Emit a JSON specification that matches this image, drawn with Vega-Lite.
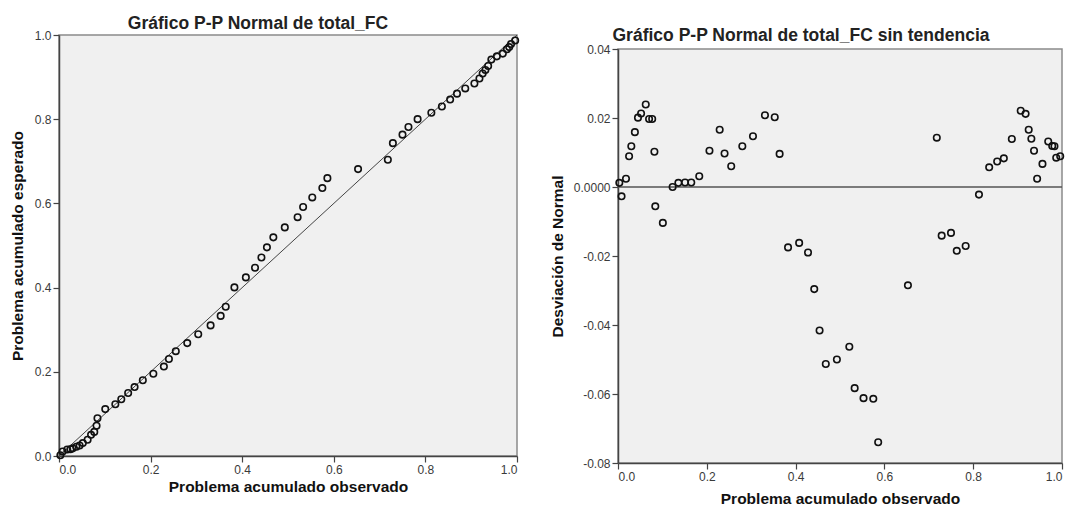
{
  "$schema": "https://vega.github.io/schema/vega-lite/v6.json",
  "background": "white",
  "padding": {"left": 9, "top": 13, "right": 0, "bottom": 0},
  "bounds": "flush",
  "spacing": 101,
  "config": {
    "view": {"stroke": null},
    "font": "Liberation Sans",
    "axis": {
      "grid": false,
      "domainColor": "#444",
      "domainWidth": 1.5,
      "tickColor": "#444",
      "tickWidth": 1.2,
      "tickSize": 6,
      "labelPadding": 2,
      "labelFont": "Liberation Sans",
      "labelFontSize": 12,
      "labelColor": "#3a3a3a",
      "titleFont": "Liberation Sans",
      "titleFontSize": 15.5,
      "titleFontWeight": "bold",
      "titleColor": "#111"
    },
    "title": {"font": "Liberation Sans", "fontSize": 17.5, "fontWeight": "bold", "color": "#222", "anchor": "middle"}
  },
  "datasets": {
    "pp": [
      {"obs": 0.003, "exp": 0.0018, "dev": 0.0012},
      {"obs": 0.008, "exp": 0.0107, "dev": -0.0027},
      {"obs": 0.018, "exp": 0.0156, "dev": 0.0024},
      {"obs": 0.025, "exp": 0.0161, "dev": 0.0089},
      {"obs": 0.030, "exp": 0.0182, "dev": 0.0118},
      {"obs": 0.038, "exp": 0.0221, "dev": 0.0159},
      {"obs": 0.045, "exp": 0.0249, "dev": 0.0201},
      {"obs": 0.052, "exp": 0.0307, "dev": 0.0213},
      {"obs": 0.0625, "exp": 0.0386, "dev": 0.0239},
      {"obs": 0.070, "exp": 0.0503, "dev": 0.0197},
      {"obs": 0.077, "exp": 0.0573, "dev": 0.0197},
      {"obs": 0.082, "exp": 0.0718, "dev": 0.0102},
      {"obs": 0.084, "exp": 0.0896, "dev": -0.0056},
      {"obs": 0.101, "exp": 0.1114, "dev": -0.0104},
      {"obs": 0.123, "exp": 0.123, "dev": 0.0},
      {"obs": 0.136, "exp": 0.1348, "dev": 0.0012},
      {"obs": 0.151, "exp": 0.1497, "dev": 0.0013},
      {"obs": 0.165, "exp": 0.1637, "dev": 0.0013},
      {"obs": 0.183, "exp": 0.1799, "dev": 0.0031},
      {"obs": 0.206, "exp": 0.1955, "dev": 0.0105},
      {"obs": 0.229, "exp": 0.2124, "dev": 0.0166},
      {"obs": 0.240, "exp": 0.2303, "dev": 0.0097},
      {"obs": 0.255, "exp": 0.249, "dev": 0.006},
      {"obs": 0.280, "exp": 0.2682, "dev": 0.0118},
      {"obs": 0.304, "exp": 0.2893, "dev": 0.0147},
      {"obs": 0.331, "exp": 0.3102, "dev": 0.0208},
      {"obs": 0.353, "exp": 0.3328, "dev": 0.0202},
      {"obs": 0.364, "exp": 0.3544, "dev": 0.0096},
      {"obs": 0.383, "exp": 0.4005, "dev": -0.0175},
      {"obs": 0.408, "exp": 0.4242, "dev": -0.0162},
      {"obs": 0.428, "exp": 0.447, "dev": -0.019},
      {"obs": 0.442, "exp": 0.4716, "dev": -0.0296},
      {"obs": 0.454, "exp": 0.4956, "dev": -0.0416},
      {"obs": 0.468, "exp": 0.5193, "dev": -0.0513},
      {"obs": 0.493, "exp": 0.543, "dev": -0.05},
      {"obs": 0.521, "exp": 0.5673, "dev": -0.0463},
      {"obs": 0.533, "exp": 0.5913, "dev": -0.0583},
      {"obs": 0.553, "exp": 0.6142, "dev": -0.0612},
      {"obs": 0.575, "exp": 0.6364, "dev": -0.0614},
      {"obs": 0.586, "exp": 0.660, "dev": -0.074},
      {"obs": 0.653, "exp": 0.6815, "dev": -0.0285},
      {"obs": 0.718, "exp": 0.7037, "dev": 0.0143},
      {"obs": 0.729, "exp": 0.7431, "dev": -0.0141},
      {"obs": 0.750, "exp": 0.7633, "dev": -0.0133},
      {"obs": 0.763, "exp": 0.7815, "dev": -0.0185},
      {"obs": 0.783, "exp": 0.8001, "dev": -0.0171},
      {"obs": 0.813, "exp": 0.8152, "dev": -0.0022},
      {"obs": 0.836, "exp": 0.8303, "dev": 0.0057},
      {"obs": 0.854, "exp": 0.8466, "dev": 0.0074},
      {"obs": 0.869, "exp": 0.8607, "dev": 0.0083},
      {"obs": 0.887, "exp": 0.8731, "dev": 0.0139},
      {"obs": 0.907, "exp": 0.8849, "dev": 0.0221},
      {"obs": 0.918, "exp": 0.8968, "dev": 0.0212},
      {"obs": 0.925, "exp": 0.9084, "dev": 0.0166},
      {"obs": 0.931, "exp": 0.917, "dev": 0.014},
      {"obs": 0.937, "exp": 0.9265, "dev": 0.0105},
      {"obs": 0.944, "exp": 0.9416, "dev": 0.0024},
      {"obs": 0.956, "exp": 0.9493, "dev": 0.0067},
      {"obs": 0.969, "exp": 0.9558, "dev": 0.0132},
      {"obs": 0.978, "exp": 0.9661, "dev": 0.0119},
      {"obs": 0.983, "exp": 0.9712, "dev": 0.0118},
      {"obs": 0.987, "exp": 0.9785, "dev": 0.0085},
      {"obs": 0.996, "exp": 0.9871, "dev": 0.0089}
    ],
    "diag": [{"a": 0, "b": 0}, {"a": 1, "b": 1}],
    "zero": [{"z": 0}]
  },
  "hconcat": [
    {
      "width": 458,
      "height": 421,
      "view": {"fill": "#f0f0f0", "stroke": "#8a8a8a", "strokeWidth": 1.5},
      "title": {"text": "Gráfico P-P Normal de total_FC", "dx": -30, "offset": -17, "baseline": "alphabetic"},
      "layer": [
        {
          "data": {"name": "diag"},
          "mark": {"type": "line", "color": "#444", "strokeWidth": 1},
          "encoding": {
            "x": {"field": "a", "type": "quantitative", "scale": {"domain": [0, 1], "nice": false}},
            "y": {"field": "b", "type": "quantitative", "scale": {"domain": [0, 1], "nice": false}}
          }
        },
        {
          "data": {"name": "pp"},
          "mark": {"type": "point", "filled": false, "stroke": "#111", "strokeWidth": 1.6, "size": 42, "opacity": 1},
          "encoding": {
            "x": {"field": "obs", "type": "quantitative", "title": "Problema acumulado observado",
                  "axis": {"values": [0, 0.2, 0.4, 0.6, 0.8, 1.0], "format": ".1f", "titlePadding": 4}},
            "y": {"field": "exp", "type": "quantitative", "title": "Problema acumulado esperado",
                  "axis": {"values": [0, 0.2, 0.4, 0.6, 0.8, 1.0], "format": ".1f", "titlePadding": 9}}
          }
        }
      ]
    },
    {
      "bounds": "flush",
      "spacing": 13,
      "vconcat": [
        {
          "width": 444,
          "height": 1,
          "data": {"values": [{"s": 0}]},
          "mark": {"type": "point", "opacity": 0},
          "encoding": {}
        },
        {
          "width": 444,
          "height": 414,
          "view": {"fill": "#f0f0f0", "stroke": "#8a8a8a", "strokeWidth": 1.5},
          "title": {"text": "Gráfico P-P Normal de total_FC sin tendencia", "dx": -39, "offset": -15, "baseline": "alphabetic"},
          "layer": [
            {
              "data": {"name": "zero"},
              "mark": {"type": "rule", "color": "#555", "strokeWidth": 1.5},
              "encoding": {
                "y": {"field": "z", "type": "quantitative", "scale": {"domain": [-0.08, 0.04], "nice": false, "zero": false}}
              }
            },
            {
              "data": {"name": "pp"},
              "mark": {"type": "point", "filled": false, "stroke": "#111", "strokeWidth": 1.6, "size": 42, "opacity": 1},
              "encoding": {
                "x": {"field": "obs", "type": "quantitative", "title": "Problema acumulado observado",
                      "scale": {"domain": [0, 1], "nice": false},
                      "axis": {"values": [0, 0.2, 0.4, 0.6, 0.8, 1.0], "format": ".1f", "titlePadding": 9}},
                "y": {"field": "dev", "type": "quantitative", "title": "Desviación de Normal",
                      "scale": {"domain": [-0.08, 0.04], "nice": false, "zero": false},
                      "axis": {"values": [-0.08, -0.06, -0.04, -0.02, 0, 0.02, 0.04],
                               "labelExpr": "datum.value == 0 ? '0.0000' : (datum.value < 0 ? '-' : '') + format(abs(datum.value), '.2f')",
                               "titlePadding": 8}}
              }
            }
          ]
        }
      ]
    }
  ]
}
